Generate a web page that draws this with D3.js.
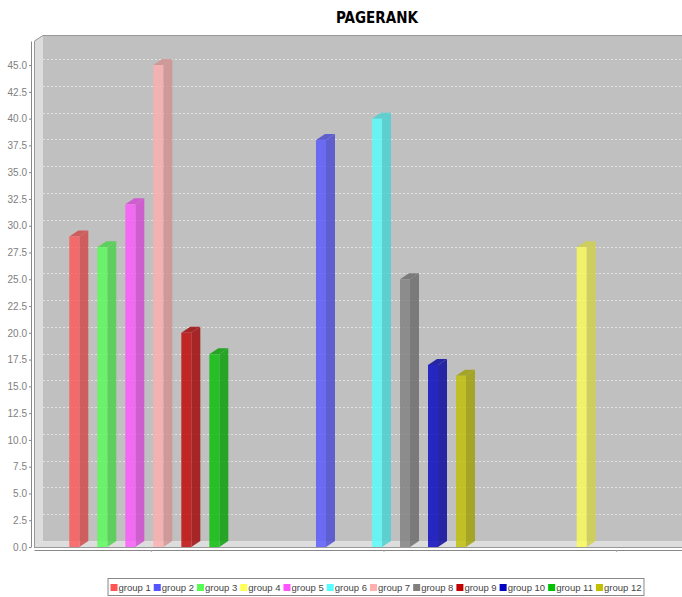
<!DOCTYPE html>
<html>
<head>
<meta charset="utf-8">
<script src="https://cdn.jsdelivr.net/npm/d3@7"></script>
<style>
  body { margin: 0; background: #fff; }
  svg { display: block; }
</style>
</head>
<body>
<script>
// chart data
var categories = ["cat 1", "cat 2", "cat 3"];
var series = ["group 1", "group 2", "group 3", "group 4", "group 5", "group 6",
              "group 7", "group 8", "group 9", "group 10", "group 11", "group 12"];
var cat1Values = [29, null, 28, null, 32, null, 45, null, 20, null, 18, null];
var cat2Values = [null, 38, null, null, null, 40, null, 25, null, 17, null, 16];
var cat3Values = [null, null, null, 28, null, null, null, null, null, null, null, null];
var yTicks = [0, 2.5, 5, 7.5, 10, 12.5, 15, 17.5, 20, 22.5, 25, 27.5, 30, 32.5, 35, 37.5, 40, 42.5, 45];
var seriesColors = ["#ff5555", "#5555ff", "#55ff55", "#ffff55", "#ff55ff", "#55ffff",
                    "#ffafaf", "#808080", "#c00000", "#0000c0", "#00c000", "#c0c000"];

function drawChart() {
  var allValues = [cat1Values, cat2Values, cat3Values];

  var W = 682, H = 597;
  var dx = 9, dy = 6;              // 3d depth offset
  var pLeft = 34, pRight = 734, pTop = 41, pBottom = 547;

  var svg = d3.select("body").append("svg")
      .attr("width", W)
      .attr("height", H);

  // scales
  var x = d3.scaleBand()
      .domain(categories)
      .range([pLeft, pRight])
      .paddingInner(0.295)
      .paddingOuter(0.1517);

  var xs = d3.scaleBand()
      .domain(series)
      .range([0, x.bandwidth()])
      .paddingInner(0.286)
      .paddingOuter(0);

  var y = d3.scaleLinear()
      .domain([0, 47.25])
      .range([pBottom, pTop]);

  var color = d3.scaleOrdinal().domain(series).range(seriesColors);

  // walls
  svg.append("rect")
      .attr("x", pLeft + dx).attr("y", pTop - dy)
      .attr("width", pRight - pLeft).attr("height", pBottom - pTop)
      .attr("fill", "#c0c0c0");

  svg.append("path")
      .attr("d", "M" + pLeft + "," + pBottom + "L" + pLeft + "," + pTop +
                 "L" + (pLeft + dx) + "," + (pTop - dy) + "L" + (pLeft + dx) + "," + (pBottom - dy) + "Z")
      .attr("fill", "#dddddd");

  svg.append("path")
      .attr("d", "M" + pLeft + "," + pBottom + "L" + (pLeft + dx) + "," + (pBottom - dy) +
                 "L" + (pRight + dx) + "," + (pBottom - dy) + "L" + pRight + "," + pBottom + "Z")
      .attr("fill", "#dddddd");

  // gridlines on the back wall
  svg.append("g").selectAll("line")
      .data(yTicks)
    .enter().append("line")
      .attr("x1", pLeft + dx).attr("x2", pRight + dx)
      .attr("y1", function(d) { return Math.round(y(d) - dy) + 0.5; })
      .attr("y2", function(d) { return Math.round(y(d) - dy) + 0.5; })
      .attr("stroke", "#e2e2e2")
      .attr("stroke-width", 1)
      .attr("stroke-dasharray", "2,2");

  // outline
  svg.append("path")
      .attr("d", "M" + (pLeft + 0.5) + "," + pBottom + "L" + (pLeft + 0.5) + "," + pTop +
                 "L" + (pLeft + dx) + "," + (pTop - dy + 0.5) + "L" + (pRight + dx) + "," + (pTop - dy + 0.5))
      .attr("fill", "none")
      .attr("stroke", "#999999");
  svg.append("line")
      .attr("x1", pLeft).attr("x2", pRight)
      .attr("y1", pBottom + 0.5).attr("y2", pBottom + 0.5)
      .attr("stroke", "#999999");

  // bars
  var bars = [];
  categories.forEach(function(c, ci) {
    series.forEach(function(s, si) {
      var v = allValues[ci][si];
      if (v !== null) bars.push({cat: c, series: s, value: v});
    });
  });

  var barG = svg.append("g");
  bars.forEach(function(d) {
    var x0 = x(d.cat) + xs(d.series);
    var x1 = x0 + xs.bandwidth();
    var yt = y(d.value);
    var base = d3.color(color(d.series));
    var dark = base.darker(0.55);
    var g = barG.append("g").attr("opacity", 0.8);
    g.append("path")
        .attr("d", "M" + x1 + "," + yt + "L" + (x1 + dx) + "," + (yt - dy) +
                   "L" + (x1 + dx) + "," + (pBottom - dy) + "L" + x1 + "," + pBottom + "Z")
        .attr("fill", dark);
    g.append("path")
        .attr("d", "M" + x0 + "," + yt + "L" + (x0 + dx) + "," + (yt - dy) +
                   "L" + (x1 + dx) + "," + (yt - dy) + "L" + x1 + "," + yt + "Z")
        .attr("fill", dark);
    g.append("rect")
        .attr("x", x0).attr("y", yt)
        .attr("width", x1 - x0).attr("height", pBottom - yt)
        .attr("fill", base);
  });

  // value axis
  var yAxis = svg.append("g")
      .attr("transform", "translate(31,0)")
      .call(d3.axisLeft(y).tickValues(yTicks).tickFormat(d3.format(".1f"))
        .tickSize(2).tickSizeOuter(0).tickPadding(2));
  yAxis.select(".domain").attr("stroke", "#888888");
  yAxis.selectAll(".tick line").attr("stroke", "#888888");
  yAxis.selectAll("text")
      .attr("fill", "#808080")
      .style("font-family", "'Liberation Sans', Arial, sans-serif")
      .style("font-size", "10px");

  // category axis
  var xAxis = svg.append("g")
      .attr("transform", "translate(0,550)")
      .call(d3.axisBottom(x).tickFormat(function() { return ""; })
        .tickSize(2).tickSizeOuter(0));
  xAxis.select(".domain").attr("stroke", "#888888");
  xAxis.selectAll(".tick line").attr("stroke", "#aaaaaa");

  // title
  svg.append("text")
      .attr("x", 377)
      .attr("y", 23)
      .attr("text-anchor", "middle")
      .style("font-family", "'DejaVu Sans Condensed', 'DejaVu Sans', sans-serif")
      .style("font-weight", "bold")
      .style("font-size", "15px")
      .style("font-stretch", "condensed")
      .text("PAGERANK");

  // legend
  var legBox = svg.append("rect");
  var legend = svg.append("g");
  var lx = 0;
  series.forEach(function(s) {
    var item = legend.append("g").attr("transform", "translate(" + lx + ",0)");
    item.append("rect")
        .attr("x", 0).attr("y", -7)
        .attr("width", 7).attr("height", 7)
        .attr("fill", color(s));
    var t = item.append("text")
        .attr("x", 8).attr("y", 0)
        .style("font-family", "'Liberation Sans', Arial, sans-serif")
        .style("font-size", "9.5px")
        .attr("fill", "#444444")
        .text(s);
    lx += 8 + t.node().getComputedTextLength() + 3;
  });
  var legW = lx + 1;
  var legX = 376 - legW / 2;
  legend.attr("transform", "translate(" + (legX + 2) + ",591)");
  legBox
      .attr("x", legX - 0.5).attr("y", 578.5)
      .attr("width", legW + 1).attr("height", 17)
      .attr("fill", "none")
      .attr("stroke", "#888888");
}

drawChart();
</script>
</body>
</html>
